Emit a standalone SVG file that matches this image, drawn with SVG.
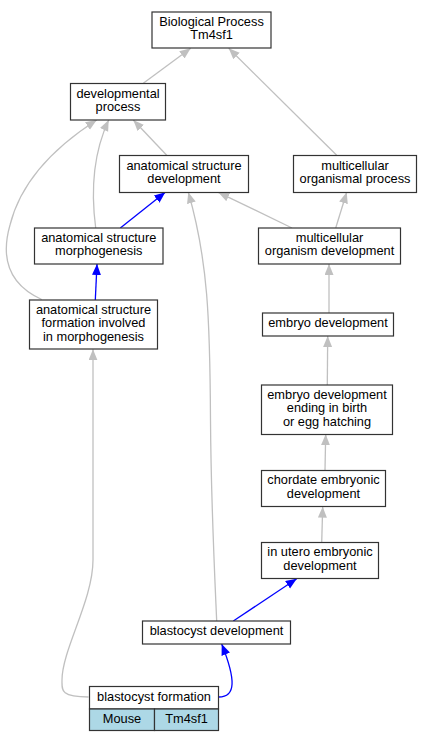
<svg xmlns="http://www.w3.org/2000/svg" width="432" height="741" viewBox="0 0 432 741">
<style>
.n rect{fill:#fff;stroke:#333;stroke-width:1.2}
.n rect.c{fill:#add8e6}
text{font-family:"Liberation Sans",Arial,sans-serif;font-size:12.8px;fill:#000;text-anchor:middle}
.g{fill:none;stroke:#c0c0c0;stroke-width:1.3}
.b{fill:none;stroke:#0000ff;stroke-width:1.3}
</style>
<defs>
<marker id="ag" markerUnits="userSpaceOnUse" markerWidth="12" markerHeight="10" refX="11" refY="4.5" orient="auto"><path d="M0,0 L11,4.5 L0,9 z" fill="#c0c0c0"/></marker>
<marker id="ab" markerUnits="userSpaceOnUse" markerWidth="12" markerHeight="10" refX="11" refY="4.5" orient="auto"><path d="M0,0 L11,4.5 L0,9 z" fill="#0000ff"/></marker>
</defs>
<rect width="432" height="741" fill="#fff"/>
<g id="edges">
<path class="g" marker-end="url(#ag)" d="M143.3,83.3 L190.7,48.3"/>
<path class="g" marker-end="url(#ag)" d="M336.7,155.3 L228.7,48.3"/>
<path class="g" marker-end="url(#ag)" d="M166.7,155.3 L133.3,120"/>
<path class="g" marker-end="url(#ag)" d="M95.7,228 C92,200 90,160 108.7,120"/>
<path class="g" marker-end="url(#ag)" d="M41.7,299.5 C10,285 0,260 10,225 C20,185 50,150 96.7,120"/>
<path class="b" marker-end="url(#ab)" d="M120.3,228 L165.3,192.3"/>
<path class="g" marker-end="url(#ag)" d="M292,228 L218.3,192.3"/>
<path class="g" marker-end="url(#ag)" d="M216.7,621 C214,560 211,500 210.5,420 C210,320 208,260 188.3,192.3"/>
<path class="g" marker-end="url(#ag)" d="M335.7,228 L346.7,192.3"/>
<path class="b" marker-end="url(#ab)" d="M95.3,300 L97,264"/>
<path class="g" marker-end="url(#ag)" d="M329,313 L329,264"/>
<path class="g" marker-end="url(#ag)" d="M327.3,385 L327.7,336"/>
<path class="g" marker-end="url(#ag)" d="M325,470.3 L325.7,434.3"/>
<path class="g" marker-end="url(#ag)" d="M321.7,542.7 L322.7,506.7"/>
<path class="b" marker-end="url(#ab)" d="M233.3,621 L296.7,578.7"/>
<path class="g" marker-end="url(#ag)" d="M88.5,697 C60,697 62,690 62,680 C62,650 93,600 93,560 L93,349.3"/>
<path class="b" marker-end="url(#ab)" d="M218.7,697 C236,697 236,680 221.7,644"/>
</g>
<g id="bp" class="n"><rect x="152" y="12" width="119" height="36"/><text x="211.5" y="26">Biological Process</text><text x="211.5" y="39">Tm4sf1</text></g>
<g id="dp" class="n"><rect x="70.5" y="83.5" width="95" height="36.5"/><text x="118" y="97.5">developmental</text><text x="118" y="110.5">process</text></g>
<g id="asd" class="n"><rect x="119.5" y="155.5" width="129" height="37"/><text x="184" y="169.5">anatomical structure</text><text x="184" y="182.5">development</text></g>
<g id="mop" class="n"><rect x="293.5" y="155.5" width="123" height="37"/><text x="355" y="169.5">multicellular</text><text x="355" y="182.5">organismal process</text></g>
<g id="asm" class="n"><rect x="34.5" y="228" width="128.5" height="36"/><text x="98.75" y="242">anatomical structure</text><text x="98.75" y="255">morphogenesis</text></g>
<g id="mod" class="n"><rect x="258.5" y="228" width="142" height="36"/><text x="329.5" y="242">multicellular</text><text x="329.5" y="255">organism development</text></g>
<g id="asf" class="n"><rect x="29.5" y="300" width="128" height="49"/><text x="93.5" y="314">anatomical structure</text><text x="93.5" y="327.3">formation involved</text><text x="93.5" y="340.6">in morphogenesis</text></g>
<g id="ed" class="n"><rect x="262.5" y="313" width="131" height="23"/><text x="328" y="327">embryo development</text></g>
<g id="edeb" class="n"><rect x="261.5" y="385" width="131" height="49.5"/><text x="327" y="399.1">embryo development</text><text x="327" y="412.4">ending in birth</text><text x="327" y="425.7">or egg hatching</text></g>
<g id="ced" class="n"><rect x="261.5" y="470.5" width="124" height="36"/><text x="323.5" y="484.4">chordate embryonic</text><text x="323.5" y="497.7">development</text></g>
<g id="iued" class="n"><rect x="261.5" y="542.5" width="117" height="36"/><text x="320" y="556.4">in utero embryonic</text><text x="320" y="569.7">development</text></g>
<g id="bd" class="n"><rect x="142.5" y="621" width="148" height="23"/><text x="216.5" y="635">blastocyst development</text></g>
<g id="bf" class="n"><rect x="89.5" y="686.5" width="129" height="22.5"/><text x="154" y="701">blastocyst formation</text><rect class="c" x="89.5" y="709" width="65" height="21.5"/><text x="122" y="722.7">Mouse</text><rect class="c" x="154.5" y="709" width="64" height="21.5"/><text x="186.5" y="722.7">Tm4sf1</text></g>
</svg>
